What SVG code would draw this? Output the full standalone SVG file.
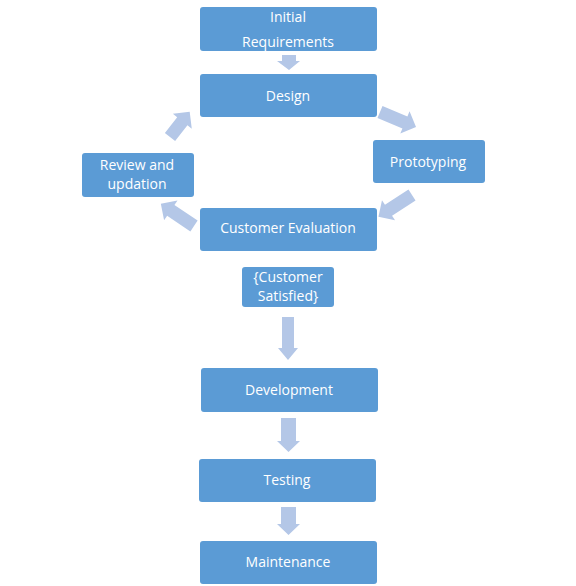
<svg xmlns="http://www.w3.org/2000/svg" width="576" height="586" viewBox="0 0 576 586">
<style>
.box{fill:#5B9BD5;}
.t{fill:#ffffff;font-family:"Open Sans","Liberation Sans",sans-serif;font-size:14px;text-anchor:middle;}
.arr{fill:#B4C7E7;}
</style>
<rect width="576" height="586" fill="#ffffff"/>
<g id="connectors">
<path class="arr" d="M282,55 H296 V61 H300 L289,70 L277,61 H282 Z"/>
<path class="arr" transform="translate(380,112) rotate(22.6)" d="M0,-6.5 H27 V-12 L39,0 L27,12 V6.5 H0 Z"/>
<path class="arr" transform="translate(412,195) rotate(147)" d="M0,-6.5 H28 V-12 L40,0 L28,12 V6.5 H0 Z"/>
<path class="arr" transform="translate(194,226) rotate(-146)" d="M0,-6.5 H28 V-12 L40,0 L28,12 V6.5 H0 Z"/>
<path class="arr" transform="translate(170,137) rotate(-52)" d="M0,-6.5 H20 V-12 L32,0 L20,12 V6.5 H0 Z"/>
<path class="arr" d="M282,317 H294 V348 H298 L288,360 L278,348 H282 Z"/>
<path class="arr" d="M281,418 H296 V441 H300 L288.5,452 L277,441 H281 Z"/>
<path class="arr" d="M281,507 H296 V524 H300 L288.5,535 L277,524 H281 Z"/>
</g>
<g id="initial"><rect class="box" x="200" y="7" width="177" height="44" rx="3"/><text class="t" x="288" y="22">Initial</text><text class="t" x="288" y="47">Requirements</text></g>
<g id="design"><rect class="box" x="200" y="74" width="177" height="43" rx="3"/><text class="t" x="288" y="101">Design</text></g>
<g id="prototyping"><rect class="box" x="373" y="140" width="112" height="43" rx="3"/><text class="t" x="428" y="167">Prototyping</text></g>
<g id="review"><rect class="box" x="82" y="153" width="112" height="44" rx="3"/><text class="t" x="137" y="170">Review and</text><text class="t" x="137" y="189">updation</text></g>
<g id="evaluation"><rect class="box" x="200" y="208" width="177" height="43" rx="3"/><text class="t" x="288" y="233">Customer  Evaluation</text></g>
<g id="satisfied"><rect class="box" x="242" y="267" width="92" height="40" rx="3"/><text class="t" x="288" y="282">{Customer</text><text class="t" x="288" y="301">Satisfied}</text></g>
<g id="development"><rect class="box" x="201" y="368" width="177" height="44" rx="3"/><text class="t" x="289" y="395">Development</text></g>
<g id="testing"><rect class="box" x="199" y="459" width="177" height="43" rx="3"/><text class="t" x="287" y="485">Testing</text></g>
<g id="maintenance"><rect class="box" x="200" y="541" width="177" height="43" rx="3"/><text class="t" x="288" y="567">Maintenance</text></g>
</svg>
